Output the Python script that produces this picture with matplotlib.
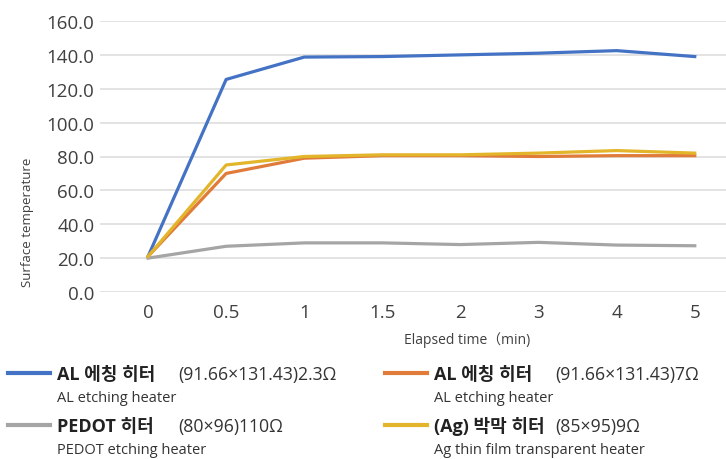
import matplotlib
matplotlib.use("Agg")
import matplotlib.pyplot as plt
from matplotlib.lines import Line2D

plt.rcParams['font.family'] = ['Open Sans', 'Noto Sans CJK KR', 'DejaVu Sans']

# data
time_labels = ['0', '0.5', '1', '1.5', '2', '3', '4', '5']
al_23 = [21, 125.5, 138.7, 139, 140, 141, 142.5, 139]
al_7 = [21, 70, 79, 80.5, 80.5, 80, 80.5, 80.5]
pedot = [20, 27, 29, 29, 28, 29.3, 27.7, 27.3]
ag_film = [21, 75, 80, 81, 81, 82, 83.5, 82]

names_ko = ['AL 에칭 히터', 'AL 에칭 히터', 'PEDOT 히터', '(Ag) 박막 히터']
names_spec = ['(91.66×131.43)2.3Ω', '(91.66×131.43)7Ω', '(80×96)110Ω', '(85×95)9Ω']
names_en = ['AL etching heater', 'AL etching heater', 'PEDOT etching heater',
            'Ag thin film transparent heater']
colors = ['#4472C4', '#E07B39', '#A5A5A5', '#E3B52A']

W, H = 726, 460
fig = plt.figure(figsize=(W / 100, H / 100), dpi=100)
ax = fig.add_axes([100 / W, 1 - 293 / H, 1 - 100 / W, (293 - 22) / H])

x = range(len(time_labels))
series = [al_23, al_7, pedot, ag_film]
for vals, c in zip(series, colors):
    ax.plot(x, vals, color=c, lw=2.3, solid_joinstyle='round', zorder=3)

ax.set_ylim(0, 160)
ax.set_xlim(-0.615, 7.4)
ax.set_yticks(range(0, 161, 20))
ax.set_yticklabels([f'{v:.1f}' for v in range(0, 161, 20)])
ax.set_xticks(list(x))
ax.set_xticklabels(time_labels)
ax.tick_params(length=0, labelsize=13.5, labelcolor='#404040', pad=4)
ax.tick_params(axis='x', pad=8)
ax.grid(axis='y', color='#E3E3E3', lw=1.4)
ax.set_axisbelow(True)
for s in ax.spines.values():
    s.set_visible(False)

fig.text(28 / W, 1 - 222 / H, 'Surface temperature', rotation=90,
         ha='center', va='center', fontsize=9.5, color='#404040')
fig.text(467 / W, 1 - 340 / H, 'Elapsed time（min)', ha='center', va='center',
         fontsize=10, color='#404040')

# custom two-line legend below the chart
cols = [8, 385]
rows = [374, 426]
for i in range(4):
    cx = cols[i % 2]
    cy = rows[i // 2]
    fig.add_artist(Line2D([cx / W, (cx + 42) / W], [1 - cy / H, 1 - cy / H],
                          transform=fig.transFigure, color=colors[i], lw=3))
    fig.text((cx + 49) / W, 1 - (cy + 1) / H, names_ko[i], ha='left', va='center',
             fontsize=13, fontweight='bold', color='#222222')
    fig.text((cx + 170) / W, 1 - (cy + 1) / H, names_spec[i], ha='left', va='center',
             fontsize=12.7, color='#333333')
    fig.text((cx + 49) / W, 1 - (cy + 25) / H, names_en[i], ha='left', va='center',
             fontsize=10.5, color='#333333')

fig.savefig('out.png', dpi=100, facecolor='white')
